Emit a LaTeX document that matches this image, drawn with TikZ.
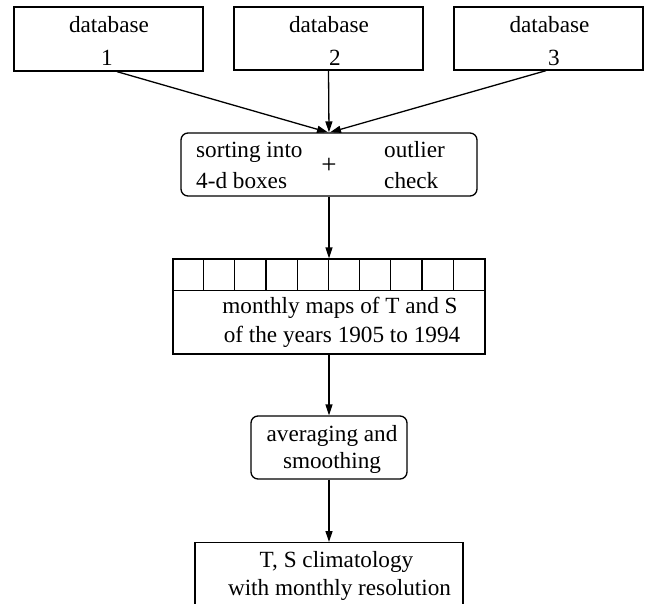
\documentclass[tikz,border=0pt]{standalone}
\usepackage{fontspec}
\setmainfont{Liberation Serif}
\usetikzlibrary{arrows.meta,calc}

\tikzset{
  box/.style={draw, line width=1.3pt, inner sep=0pt, minimum width=#1},
  roundbox/.style={box=#1, rounded corners=7pt},
  txt/.style={inner sep=0pt, anchor=base, font=\fontsize{23.2}{28}\selectfont},
  ltxt/.style={txt, anchor=base west},
  flow/.style={line width=1.3pt, -{Triangle[length=11pt,width=7pt]}},
}

\begin{document}
\begin{tikzpicture}[x=1pt, y=-1pt]
\useasboundingbox (0,0) rectangle (645,603);

% data sources
\node[box=189pt, minimum height=64pt] (db1) at (108.5,39) {};
\node[box=189pt, minimum height=63pt] (db2) at (328.5,38.5) {};
\node[box=189pt, minimum height=63pt] (db3) at (548.5,38.5) {};
\node[txt] (db1a) at (109,32) {database};
\node[txt] (db1b) at (107,65) {1};
\node[txt] (db2a) at (329,32) {database};
\node[txt] (db2b) at (335,65) {2};
\node[txt] (db3a) at (549.5,32) {database};
\node[txt] (db3b) at (554,65) {3};

% sorting and outlier check
\node[roundbox=296pt, minimum height=63pt] (sort) at (329,164.5) {};
\node[ltxt] (s1) at (196,157) {sorting into};
\node[ltxt] (s2) at (196,188) {4-d boxes};
\node[inner sep=0pt, font=\fontsize{27}{30}\selectfont] (plus) at (329,166) {+};
\node[ltxt] (o1) at (384,157) {outlier};
\node[ltxt] (o2) at (384,188) {check};

% monthly maps with a strip of ten cells on top
\node[box=312pt, minimum height=95pt] (maps) at (329,306.5) {};
\coordinate (cellbase) at ($(maps.north west)+(0,32)$);
\draw[line width=1.3pt] (cellbase) -- ($(maps.north east)+(0,32)$);
\foreach \i in {1,...,9}
  \draw[line width=1.3pt] ($(maps.north west)+(31.2*\i,0)$) -- ($(cellbase)+(31.2*\i,0)$);
\node[txt] (m1) at (340,313) {monthly maps of T and S};
\node[txt] (m2) at (342,342) {of the years 1905 to 1994};

% averaging
\node[roundbox=156pt, minimum height=63pt] (avg) at (329,447.5) {};
\node[txt] (a1) at (332,441) {averaging and};
\node[txt] (a2) at (332,468) {smoothing};

% climatology (runs past the lower edge)
\begin{scope}
\clip (0,0) rectangle (645,603);
\node[box=268pt, minimum height=90pt, anchor=north] (clim) at (329,542) {};
\end{scope}
\node[txt] (c1) at (336.5,567) {T, S climatology};
\node[txt] (c2) at (339.5,595) {with monthly resolution};

% connectors
\draw[flow] ($(db1.south)+(8.5,0)$) -- ($(sort.north)+(-1,0)$);
\draw[flow] (db2.south) -- (sort.north);
\draw[flow] ($(db3.south)+(-2.5,0)$) -- ($(sort.north)+(1,0)$);
\draw[flow] (sort.south) -- (maps.north);
\draw[flow] (maps.south) -- (avg.north);
\draw[flow] (avg.south) -- (clim.north);
\end{tikzpicture}
\end{document}
